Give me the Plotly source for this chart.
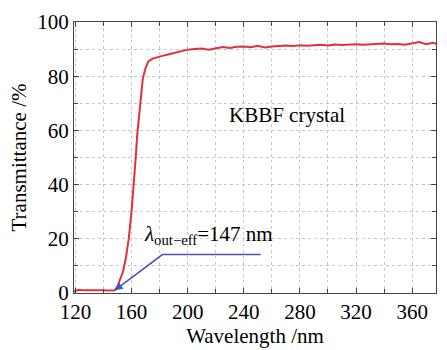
import plotly.graph_objects as go

wavelength = [119,122,125,128,131,134,137,140,143,146,148,150,152,154,156,158,160,161,162,163,164,165,166,167,168,170,172,175,178,182,186,190,195,200,205,210,215,220,225,230,235,240,245,250,255,260,265,270,275,280,285,290,295,300,305,310,315,320,325,330,335,340,345,350,355,360,365,370,375,378]
transmittance = [0.5,1.2,1.0,1.1,1.0,1.0,1.1,1.0,0.9,0.9,1.0,2.5,5,8,13,20,30,36,42,50,58,64,70,75,79,83,85.5,86.5,87,87.5,88,88.5,89.2,89.8,90,90.2,89.8,90.3,90.8,90.4,90.9,91,90.7,91.2,90.6,91,91.2,91.3,91.1,91.4,91.2,91.5,91.6,91.3,91.7,91.5,91.6,91.8,91.6,91.7,91.9,92.1,91.8,91.9,91.6,92.2,92.6,91.8,92.3,91.8]

marker_x = [148, 182, 252]
marker_y = [1, 14.2, 14.2]

x_ticks = [120, 160, 200, 240, 280, 320, 360]
y_ticks = [0, 20, 40, 60, 80, 100]

FONT = "Times New Roman, Liberation Serif, serif"

fig = go.Figure()
fig.add_trace(go.Scatter(x=wavelength, y=transmittance, mode="lines",
                         line=dict(color="#e0303e", width=2), showlegend=False))
fig.add_trace(go.Scatter(x=marker_x, y=marker_y, mode="lines",
                         line=dict(color="#4a55b0", width=1.6), showlegend=False))
fig.add_annotation(x=marker_x[0], y=marker_y[0], ax=marker_x[0] + 6, ay=marker_y[0] + 2.3,
                   axref="x", ayref="y", xref="x", yref="y", text="", showarrow=True,
                   arrowhead=2, arrowsize=1, arrowwidth=1.6, arrowcolor="#4a55b0")
fig.add_annotation(x=215, y=21.3, text="<i>λ</i><sub>out−eff</sub>=147 nm", showarrow=False,
                   font=dict(family=FONT, size=21, color="black"))
fig.add_annotation(x=271, y=65.8, text="KBBF crystal", showarrow=False,
                   font=dict(family=FONT, size=21, color="black"))

axis_common = dict(showline=True, linecolor="#444", linewidth=1.2, mirror="allticks",
                   ticks="inside", ticklen=5, tickcolor="#444",
                   showgrid=True, gridcolor="#c8c8c8", griddash="dot", gridwidth=1,
                   zeroline=False, tickfont=dict(family=FONT, size=21, color="black"))

fig.update_xaxes(range=[119, 377], tickvals=x_ticks,
                 minor=dict(dtick=20, tick0=120, ticks="inside", ticklen=4, tickcolor="#444",
                            showgrid=True, gridcolor="#c8c8c8", griddash="dot"),
                 title=dict(text="Wavelength /nm", font=dict(family=FONT, size=21, color="black"), standoff=0),
                 **axis_common)
fig.update_yaxes(range=[0, 100], tickvals=y_ticks,
                 minor=dict(dtick=10, tick0=0, ticks="inside", ticklen=4, tickcolor="#444",
                            showgrid=True, gridcolor="#c8c8c8", griddash="dot"),
                 title=dict(text="Transmittance /%", font=dict(family=FONT, size=21, color="black"), standoff=4),
                 **axis_common)

fig.update_layout(width=447, height=350, margin=dict(l=74, r=10, t=15, b=57),
                  plot_bgcolor="white", paper_bgcolor="white", showlegend=False)

fig.write_html("out.html")
